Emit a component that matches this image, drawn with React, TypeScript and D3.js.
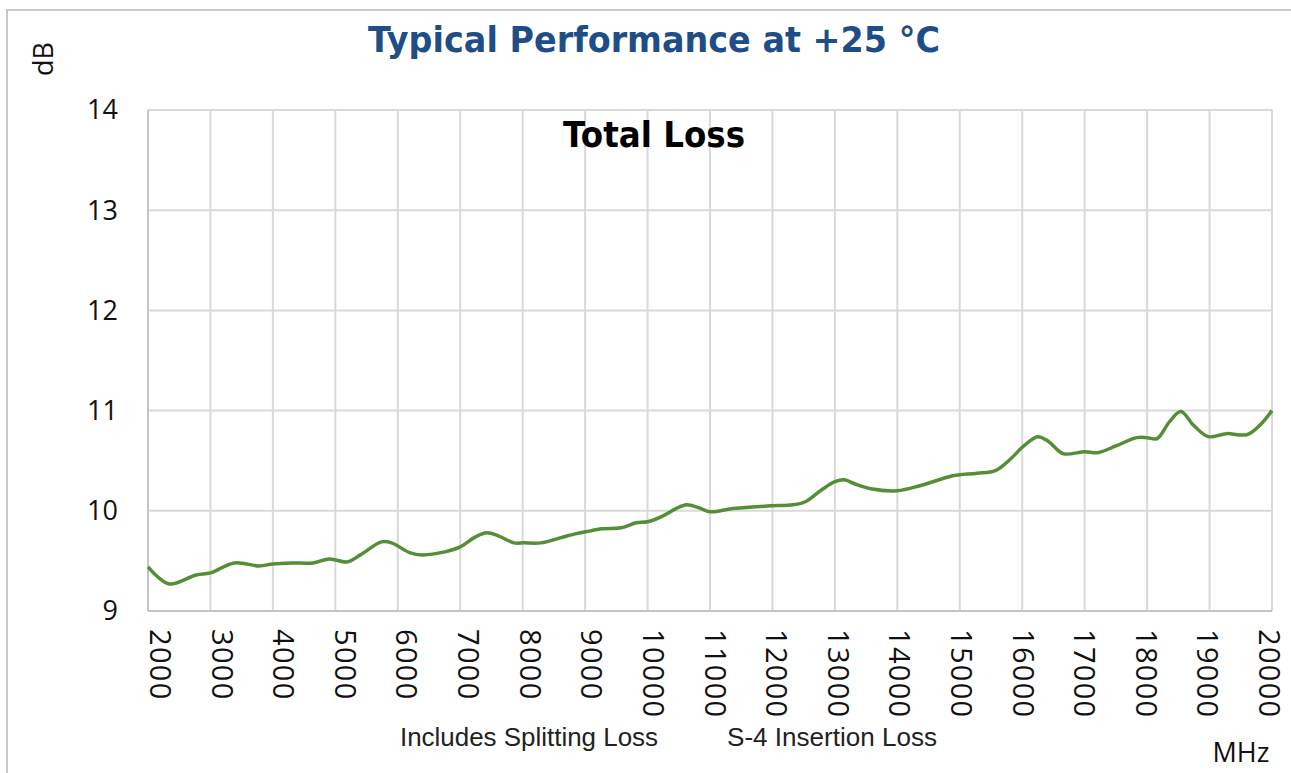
import React from 'react';
import * as d3 from 'd3';

const width = 1291;
const height = 773;
const margin = { top: 110, right: 19, bottom: 162, left: 148 };

const green = '#548e35';
const grid = '#d9d9d9';
const navy = '#1f4e87';

// frequency ticks (MHz) and dB ticks
const freqTicks = [2000, 3000, 4000, 5000, 6000, 7000, 8000, 9000, 10000, 11000,
  12000, 13000, 14000, 15000, 16000, 17000, 18000, 19000, 20000];
const dbTicks = [9, 10, 11, 12, 13, 14];

// total loss curve
const freq = [2000, 2340, 2770, 3000, 3380, 3780, 4000, 4300, 4640, 4910, 5190, 5400,
  5740, 5900, 6200, 6390, 6750, 7000, 7245, 7430, 7610, 7860, 8020, 8290, 8600, 8840,
  9010, 9270, 9580, 9820, 10000, 10250, 10450, 10627, 10823, 11000, 11347, 11740,
  11990, 12330, 12527, 12790, 13000, 13150, 13313, 13575, 13995, 14360, 14620, 14885,
  15000, 15280, 15570, 15800, 16030, 16250, 16425, 16655, 17000, 17210, 17510, 17835,
  18000, 18160, 18360, 18540, 18750, 18980, 19270, 19600, 19800, 20000];
const loss = [9.44, 9.27, 9.36, 9.38, 9.48, 9.45, 9.47, 9.48, 9.48, 9.52, 9.49, 9.56,
  9.69, 9.68, 9.58, 9.56, 9.59, 9.64, 9.74, 9.78, 9.75, 9.68, 9.68, 9.68, 9.73, 9.77,
  9.79, 9.82, 9.83, 9.88, 9.89, 9.95, 10.02, 10.06, 10.03, 9.99, 10.02, 10.04,
  10.05, 10.06, 10.09, 10.21, 10.29, 10.31, 10.27, 10.22, 10.20, 10.25, 10.30, 10.35,
  10.36, 10.375, 10.40, 10.51, 10.65, 10.74, 10.69, 10.57, 10.59, 10.58, 10.65, 10.73,
  10.73, 10.72, 10.89, 10.99, 10.85, 10.74, 10.77, 10.76, 10.85, 11.0];

const x = d3.scaleLinear().domain([2000, 20000]).range([margin.left, width - margin.right]);
const y = d3.scaleLinear().domain([9, 14]).range([height - margin.bottom, margin.top]);
// tick labels sit on a slightly tighter spacing than the grid
const xLabel = d3.scaleLinear().domain([2000, 20000]).range([150, 1259]);

const line = d3.line<number>()
  .x((d, i) => x(freq[i]))
  .y(d => y(d))
  .curve(d3.curveCatmullRom.alpha(0.5));

const tickFont = '"Open Sans", sans-serif';

export default function App() {
  const plotB = height - margin.bottom;
  const plotR = width - margin.right;
  return (
    <div style={{ position: 'fixed', left: 0, top: 0 }}>
      <svg width={width} height={height} style={{ display: 'block', background: '#fff' }}>
        {/* outer frame */}
        <path d={`M7,${height + 5}V10H${width + 5}`} fill="none" stroke="#c8c8c8" strokeWidth={2} />

        {/* grid */}
        {freqTicks.map(f => (
          <line key={'v' + f} x1={x(f)} x2={x(f)} y1={margin.top} y2={plotB} stroke={grid} strokeWidth={2} />
        ))}
        {dbTicks.map(v => (
          <line key={'h' + v} x1={margin.left} x2={plotR} y1={y(v)} y2={y(v)} stroke={grid} strokeWidth={2} />
        ))}
        <line x1={margin.left} x2={margin.left} y1={margin.top} y2={plotB} stroke="#c4c4c4" strokeWidth={2} />
        <line x1={margin.left} x2={plotR} y1={plotB} y2={plotB} stroke="#c4c4c4" strokeWidth={2} />

        {/* y tick labels */}
        {dbTicks.map(v => (
          <text key={'yl' + v} x={118} y={y(v)} dy="0.35em" textAnchor="end"
            fontFamily={tickFont} fontSize={27} fill="#111">{v}</text>
        ))}

        {/* x tick labels, rotated */}
        {freqTicks.map(f => (
          <text key={'xl' + f} transform={`translate(${xLabel(f)},629) rotate(90)`}
            textAnchor="start" fontFamily={tickFont} fontSize={29} letterSpacing={1.3} fill="#111">{f}</text>
        ))}

        {/* curve */}
        <path d={line(loss) || ''} fill="none" stroke={green} strokeWidth={3.5} strokeLinejoin="round" />

        {/* titles */}
        <text x={654} y={52} textAnchor="middle" fontFamily='"DejaVu Sans", sans-serif' fontWeight="bold"
          fontSize={35} fill={navy} textLength={572} lengthAdjust="spacingAndGlyphs">
          Typical Performance at +25 °C
        </text>
        <text x={654} y={147} textAnchor="middle" fontFamily='"DejaVu Sans", sans-serif' fontWeight="bold"
          fontSize={36} fill="#000" textLength={182} lengthAdjust="spacingAndGlyphs">
          Total Loss
        </text>

        {/* axis captions */}
        <text transform="translate(53,59) rotate(-90)" textAnchor="middle" fontFamily={tickFont}
          fontSize={27} fill="#111">dB</text>
        <text x={1241} y={762} textAnchor="middle" fontFamily={tickFont} fontSize={27} fill="#111">MHz</text>
        <text x={400} y={746} fontFamily='"Liberation Sans Narrow", "Liberation Sans", sans-serif'
          fontSize={25} fill="#222" textLength={258} lengthAdjust="spacingAndGlyphs">Includes Splitting Loss</text>
        <text x={727} y={746} fontFamily='"Liberation Sans Narrow", "Liberation Sans", sans-serif'
          fontSize={25} fill="#222" textLength={210} lengthAdjust="spacingAndGlyphs">S-4 Insertion Loss</text>
      </svg>
    </div>
  );
}
